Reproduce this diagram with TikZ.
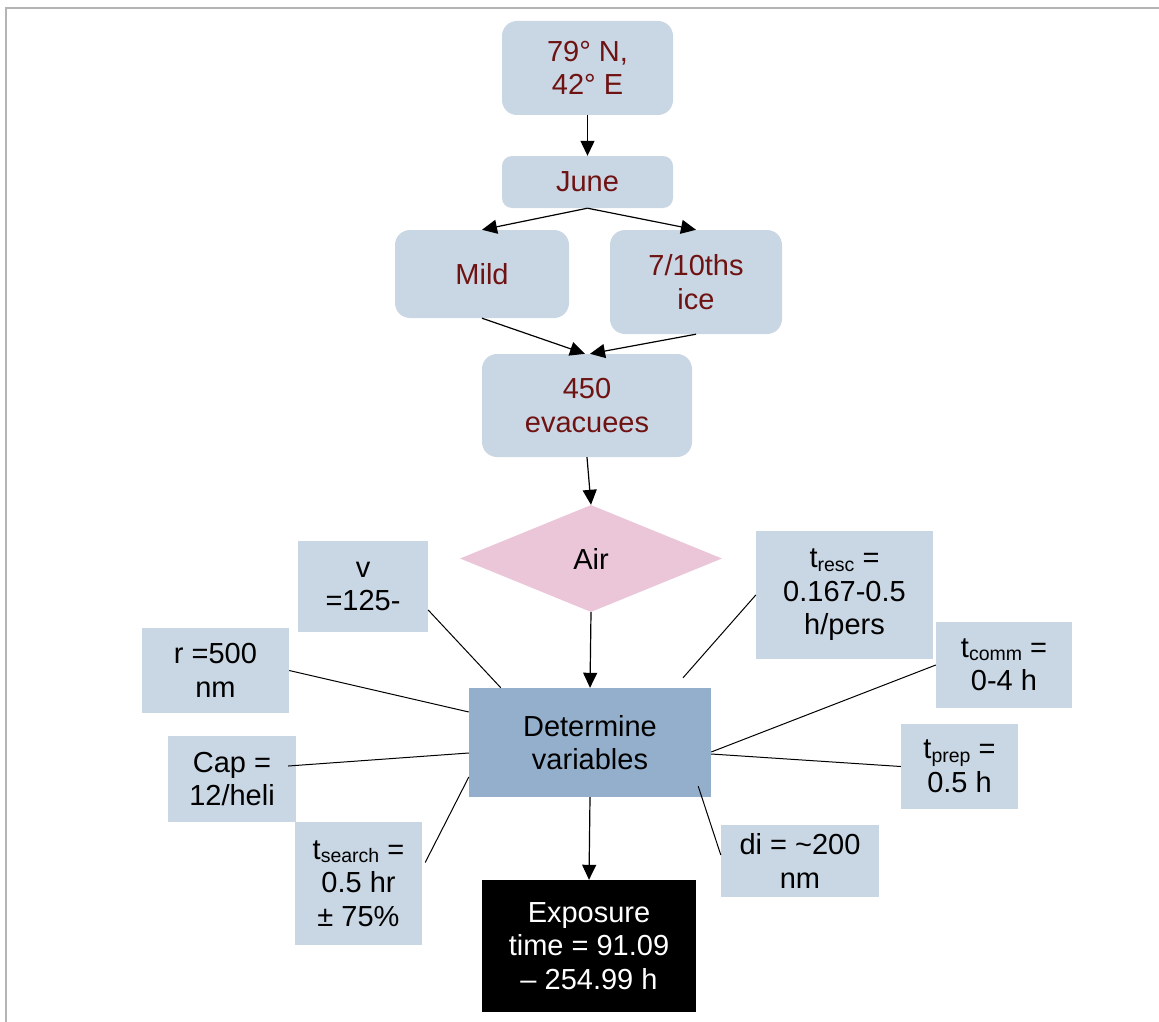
\documentclass[tikz,border=0pt]{standalone}
\usepackage{fontspec}
\setmainfont{Liberation Sans}
\usetikzlibrary{arrows.meta,shapes.geometric,calc}
\definecolor{boxc}{HTML}{C9D6E3}
\definecolor{detc}{HTML}{94AFCB}
\definecolor{pinkc}{HTML}{EBC5D8}
\definecolor{redtxt}{RGB}{110,18,18}
\definecolor{framec}{HTML}{B4B4B4}
\newcommand\sbs[1]{\raisebox{-3.5pt}{\fontsize{19.5}{19.5}\selectfont #1}}
\begin{document}
\begin{tikzpicture}[x=1pt,y=-1pt,
  txt/.style={font=\fontsize{29}{33.5}\selectfont, align=center, inner sep=0pt},
  rbox/.style={txt, fill=boxc, rounded corners=15pt, text=redtxt},
  sbox/.style={txt, fill=boxc, text=black},
  arr/.style={-{Triangle[length=15pt,width=14pt]}, line width=1.2pt},
  cline/.style={line width=1pt}]
\useasboundingbox (0,0) rectangle (1159,1022);
\draw[framec, line width=2.5pt] (6,1022) -- (6,8) -- (1159,8);

\node[rbox, minimum width=171pt, minimum height=94pt] (n1) at (587.5,68) {79° N,\\42° E};
\node[rbox, minimum width=171pt, minimum height=52pt, rounded corners=10pt] (june) at (587.5,182) {\raisebox{-3pt}{June}};
\node[rbox, minimum width=174pt, minimum height=88pt] (mild) at (482,274) {Mild};
\node[rbox, minimum width=172pt, minimum height=104pt] (ice) at (696,282) {7/10ths\\ice};
\node[rbox, minimum width=210pt, minimum height=103pt] (evac) at (587,405.5) {450\\evacuees};
\node[txt, diamond, fill=pinkc, minimum width=262pt, minimum height=107pt, shape aspect=2.45] (air) at (591,558.5) {Air};
\node[txt, fill=detc, minimum width=242pt, minimum height=109pt] (det) at (590,742.5) {Determine\\variables};
\node[txt, fill=black, text=white, minimum width=214pt, minimum height=132pt] (exp) at (589,946) {Exposure\\time = 91.09\\– 254.99 h};

\node[sbox, minimum width=130pt, minimum height=91pt] (v) at (363,586.5) {v\\=125-};
\node[sbox, minimum width=147pt, minimum height=85pt] (r) at (215.5,670.5) {r =500\\nm};
\node[sbox, minimum width=128pt, minimum height=86pt] (cap) at (232,779) {Cap =\\12/heli};
\node[sbox, minimum width=127pt, minimum height=123pt] (ts) at (358.5,883.5) {t\sbs{search} =\\0.5 hr\\± 75\%};
\node[sbox, minimum width=177pt, minimum height=128pt] (tr) at (844.5,595) {t\sbs{resc} =\\0.167-0.5\\h/pers};
\node[sbox, minimum width=136pt, minimum height=86pt] (tc) at (1004,665) {t\sbs{comm} =\\0-4 h};
\node[sbox, minimum width=117pt, minimum height=85pt] (tp) at (959.5,766.5) {t\sbs{prep} =\\0.5 h};
\node[sbox, minimum width=158pt, minimum height=72pt] (di) at (800,861) {di = \textasciitilde200\\nm};

\draw[arr] (n1.south) -- (june.north);
\draw[arr] (june.south) -- (mild.north);
\draw[arr] (june.south) -- (ice.north);
\draw[arr] (mild.south) -- ([xshift=-2pt]evac.north);
\draw[arr] (ice.south) -- ([xshift=3pt]evac.north);
\draw[arr] (evac.south) -- (air.north);
\draw[arr] (air.south) -- (det.north);
\draw[arr] (det.south) -- (exp.north);

\draw[cline] ([yshift=-23.5pt]v.east) -- ([xshift=32pt]det.north west);
\draw[cline] (r.east) -- ([yshift=30.5pt]det.west);
\draw[cline] ([xshift=-8pt,yshift=13pt]cap.east) -- ([yshift=-10.5pt]det.west);
\draw[cline] ([yshift=-34.5pt]det.west) -- ([xshift=3pt,yshift=21pt]ts.east);
\draw[cline] (tr.west) -- ([xshift=93pt,yshift=10pt]det.north);
\draw[cline] (tc.west) -- ([yshift=-9.5pt]det.east);
\draw[cline] ([yshift=-11.5pt]det.east) -- (tp.west);
\draw[cline] ([xshift=-13pt,yshift=11pt]det.south east) -- ([yshift=6pt]di.west);
\end{tikzpicture}
\end{document}
